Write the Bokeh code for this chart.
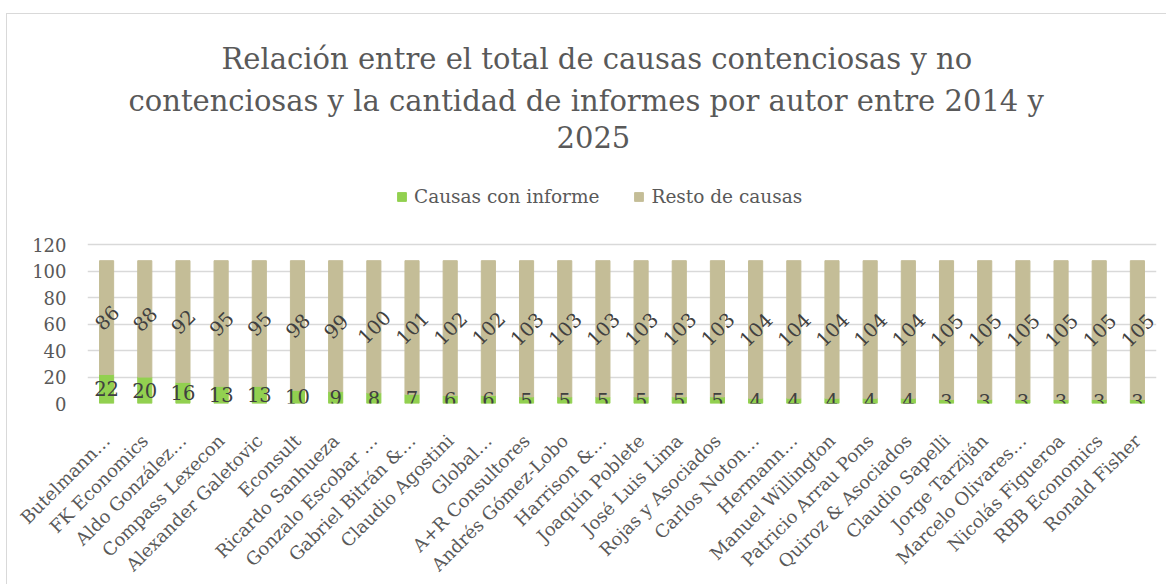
import math
from bokeh.plotting import figure
from bokeh.models import ColumnDataSource, Legend, LegendItem, Title, FixedTicker, Range1d
from bokeh.embed import file_html
from bokeh.resources import INLINE
from bokeh.core.properties import value

autores = [
    "Butelmann…", "FK Economics", "Aldo González…", "Compass Lexecon",
    "Alexander Galetovic", "Econsult", "Ricardo Sanhueza", "Gonzalo Escobar …",
    "Gabriel Bitrán &…", "Claudio Agostini", "Global…", "A+R Consultores",
    "Andrés Gómez-Lobo", "Harrison &…", "Joaquín Poblete", "José Luis Lima",
    "Rojas y Asociados", "Carlos Noton…", "Hermann…", "Manuel Willington",
    "Patricio Arrau Pons", "Quiroz & Asociados", "Claudio Sapelli",
    "Jorge Tarziján", "Marcelo Olivares…", "Nicolás Figueroa",
    "RBB Economics", "Ronald Fisher",
]
causas_con_informe = [22, 20, 16, 13, 13, 10, 9, 8, 7, 6, 6, 5, 5, 5, 5, 5, 5,
                      4, 4, 4, 4, 4, 3, 3, 3, 3, 3, 3]
resto_de_causas = [86, 88, 92, 95, 95, 98, 99, 100, 101, 102, 102, 103, 103,
                   103, 103, 103, 103, 104, 104, 104, 104, 104, 105, 105, 105,
                   105, 105, 105]
y_ticks = [0, 20, 40, 60, 80, 100, 120]

titulo = [
    "Relación entre el total de causas contenciosas y no",
    "contenciosas y la cantidad de informes por autor entre 2014 y",
    "2025",
]
# left offsets of each title line from the plot frame (centres the lines on the chart)
titulo_offset = [134, 41, 469]

FONT = "DejaVu Serif"
TXT = "#595959"

src = ColumnDataSource(dict(
    autor=autores,
    con=causas_con_informe,
    resto=resto_de_causas,
    mid_con=[c / 2 for c in causas_con_informe],
    mid_resto=[c + r / 2 for c, r in zip(causas_con_informe, resto_de_causas)],
    con_txt=[str(c) for c in causas_con_informe],
    resto_txt=[str(r) for r in resto_de_causas],
))

# canvas starts at page y=14.5; frame top at 150.5, 120 at 245, 0 at 404
p = figure(x_range=autores, y_range=Range1d(0, 120 * (404 - 150.5) / (404 - 245)),
           width=1160, height=571,
           output_backend="svg", toolbar_location=None,
           min_border_left=80, min_border_right=11, min_border_bottom=181,
           min_border_top=136, margin=(13, 0, 0, 6))
p.title.visible = False

rs = p.vbar_stack(["con", "resto"], x="autor", width=0.37,
                  color=["#92D050", "#C4BD97"], source=src)

p.text(x="autor", y="mid_con", text="con_txt", source=src,
       text_align="center", text_baseline="middle",
       text_font=value(FONT), text_font_size="19.5px", text_color="#404040")
p.text(x="autor", y="mid_resto", text="resto_txt", source=src,
       angle=math.pi / 4, text_align="center", text_baseline="middle",
       text_font=value(FONT), text_font_size="19.5px", text_color="#404040")

p.yaxis.ticker = FixedTicker(ticks=y_ticks)
p.yaxis.axis_line_color = None
p.yaxis.major_tick_line_color = None
p.yaxis.minor_tick_line_color = None
p.yaxis.major_label_text_font = FONT
p.yaxis.major_label_text_font_size = "18px"
p.yaxis.major_label_text_color = TXT
p.yaxis.major_label_standoff = 15

p.xaxis.axis_line_color = None
p.xaxis.major_tick_line_color = None
p.xaxis.major_label_orientation = math.pi / 4
p.xaxis.major_label_text_font = FONT
p.xaxis.major_label_text_font_size = "18px"
p.xaxis.major_label_text_color = TXT
p.xaxis.major_label_standoff = 28

p.xgrid.grid_line_color = None
p.ygrid.grid_line_color = "#D9D9D9"
p.ygrid.grid_line_width = 1.5
p.outline_line_color = None
p.x_range.range_padding = 0

legend = Legend(items=[LegendItem(label="Causas con informe", renderers=[rs[0]]),
                       LegendItem(label="Resto de causas", renderers=[rs[1]])],
                orientation="horizontal", location=(309, 196),
                label_text_font=FONT, label_text_font_size="18.5px",
                label_text_color=TXT, glyph_width=11, glyph_height=11,
                label_standoff=7, spacing=34, border_line_color=None,
                background_fill_alpha=0, margin=0, padding=6)
p.add_layout(legend, "center")

for line, off in reversed(list(zip(titulo, titulo_offset))):
    p.add_layout(Title(text=line, align="left", text_font=FONT,
                       text_font_size="29px", text_font_style="normal",
                       text_color=TXT, standoff=6, offset=off), "above")

p.styles = {"border-top": "1.5px solid #D9D9D9",
            "border-left": "1.5px solid #D9D9D9"}

open("out.html", "w").write(file_html(p, INLINE))
